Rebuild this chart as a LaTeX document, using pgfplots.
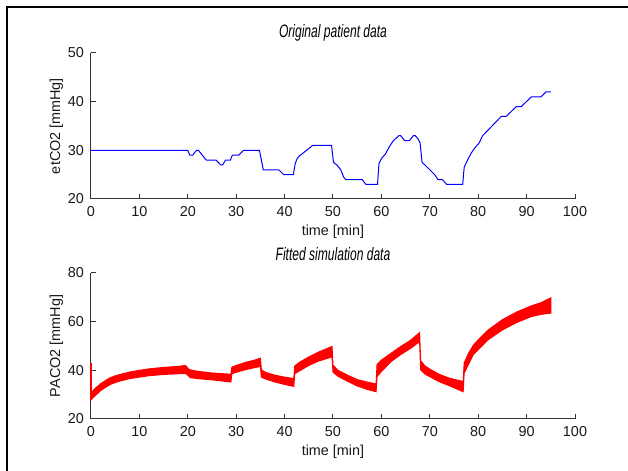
\documentclass[border=0pt]{standalone}
\usepackage{fontspec}
\setmainfont{Liberation Sans}
\usepackage{graphicx}
\usepackage{pgfplots}
\pgfplotsset{compat=1.18}

\pgfplotsset{
  mlab/.style={
    scale only axis,
    width=242pt, height=73pt,
    xmin=0, xmax=100,
    xtick={0,10,...,100},
    axis lines=left,
    axis line style={-, black!80, line width=0.5pt},
    tick align=inside,
    major tick length=2.5pt,
    tick style={black!80, line width=0.5pt},
    /pgf/number format/assume math mode=true,
    tick label style={font=\fontsize{7.2}{8}\selectfont, text=black!90},
    label style={font=\fontsize{7.2}{8}\selectfont, text=black!90},
    xlabel={time [min]},
    xlabel style={yshift=2.5pt},
    ylabel style={yshift=-4.5pt},
    title style={font=\fontsize{9}{10}\selectfont\itshape, yshift=-3.5pt},
    clip=false,
  }
}

\begin{document}
\begin{tikzpicture}
\path[use as bounding box] (0,0) rectangle (314pt,235.5pt);
\draw[line width=1pt] (3.6pt,0) -- (3.6pt,232pt) -- (314pt,232pt);

% top: original patient data
\begin{axis}[mlab, at={(45.5pt,136pt)}, anchor=south west,
  ymin=20, ymax=50, ytick={20,30,40,50},
  ylabel={etCO2 [mmHg]},
  title={\scalebox{0.67}[1]{Original patient data}}]
\addplot[blue, line width=0.5pt] coordinates {
(0,30)(20,30)(20.4,29)(21,29)(21.8,30)(22.2,30)(23.8,28)(25.8,28)(26.8,27)(27.2,27)
(27.8,28)(28.8,28)(29.2,29)(30.5,29)(31.5,30)(34.8,30)(35.6,26)(38.8,26)(39.8,25)(41.8,25)
(42.2,27.3)(42.6,28.3)(43,28.8)(45.8,31)(49.7,31)(50.1,27.5)(50.8,27)(51.6,26)(52.2,24.5)(52.6,24)
(56,24)(56.8,23)(59.2,23)(59.5,27.3)(60,28.3)(60.8,29.2)(61.4,30.3)(61.8,31)(62.5,32)(63.6,33)
(64,33)(64.8,32)(65.8,32)(66.6,33)(67,33)(67.6,32.3)(68,31.5)(68.4,27.5)(69,27)(70,26)
(71,25)(71.7,24)(72.6,24)(73.5,23)(76.8,23)(77.1,26.5)(77.8,28)(78.6,29.5)(79.3,30.5)(80.2,31.5)
(80.9,33)(84.8,37)(85.8,37)(87.9,39)(88.9,39)(91,41)(93,41)(94,42)(95,42)
};
\end{axis}

% bottom: fitted simulation data (band between upper and lower envelope)
\begin{axis}[mlab, at={(45.5pt,26pt)}, anchor=south west,
  ymin=20, ymax=80, ytick={20,40,60,80},
  ylabel={PACO2 [mmHg]},
  title={\scalebox{0.67}[1]{Fitted simulation data}}]
\addplot[fill=red, draw=red, line width=0.5pt] coordinates {
(0,30.5)(0.5,31.8)(1,32.8)(2,34.5)(3,35.8)(4,37)(5,37.7)(6,38.3)(8,39.3)(10,40)
(12,40.6)(15,41.2)(18,41.6)(19.5,42)(20.3,40.3)(22,39.6)(25,38.9)(28.9,38.4)(29.1,41.3)(30,42)
(32,43.3)(34,44.3)(35,45)(35.2,40.2)(36,39.2)(38,38)(40,37.2)(41.9,36.6)(42.1,41.8)(43,43.2)
(45,45.5)(47,47.5)(49.8,49.8)(50,42.2)(51,40)(53,38)(55,36.2)(57,35.2)(58.9,34.4)(59.1,42.4)
(60,44.2)(62,47)(64,49.8)(66,52.3)(67.9,55.5)(68.1,44)(69,41.8)(70,40.5)(72,38.3)(74,36.8)
(76.9,35.4)(77.1,43)(78,47)(79,50.3)(80,52.5)(82,56.5)(85,60.8)(88,64)(91,66.5)(93,67.8)(95,69.8)
(95,63.5)(93,63)(91,62.1)(88,59.7)(85,56.6)(82,52.5)(80,48.5)(79,46.5)(78,42.5)(77.1,38.8)
(76.9,31.2)(74,33.7)(72,35.3)(70,37.4)(69,38.5)(68.1,40.2)(67.9,51.8)(66,49)(64,46.5)(62,43.6)
(60,39.5)(59.1,37.4)(58.9,31.2)(57,32.2)(55,33.6)(53,35.5)(51,37.6)(50,39.3)(49.8,45.5)(47,43.8)
(45,42)(43,39.7)(42.1,38.6)(41.9,33.4)(40,34.2)(38,35.2)(36,36.5)(35.2,37.2)(35,41.6)(34,41.2)
(32,40.3)(30,39.2)(29.1,38.6)(28.9,35.2)(25,36.1)(22,36.6)(20.5,37)(19.7,38.6)(18,38.6)(15,38.3)
(12,37.8)(10,37.2)(8,36.6)(6,35.6)(5,35)(4,34.2)(3,33)(2,31.7)(1,29.8)(0.5,29)(0,27.8)
} -- cycle;
\addplot[red, line width=0.6pt] coordinates {(0,27.8)(0,43)};
\end{axis}
\end{tikzpicture}
\end{document}
